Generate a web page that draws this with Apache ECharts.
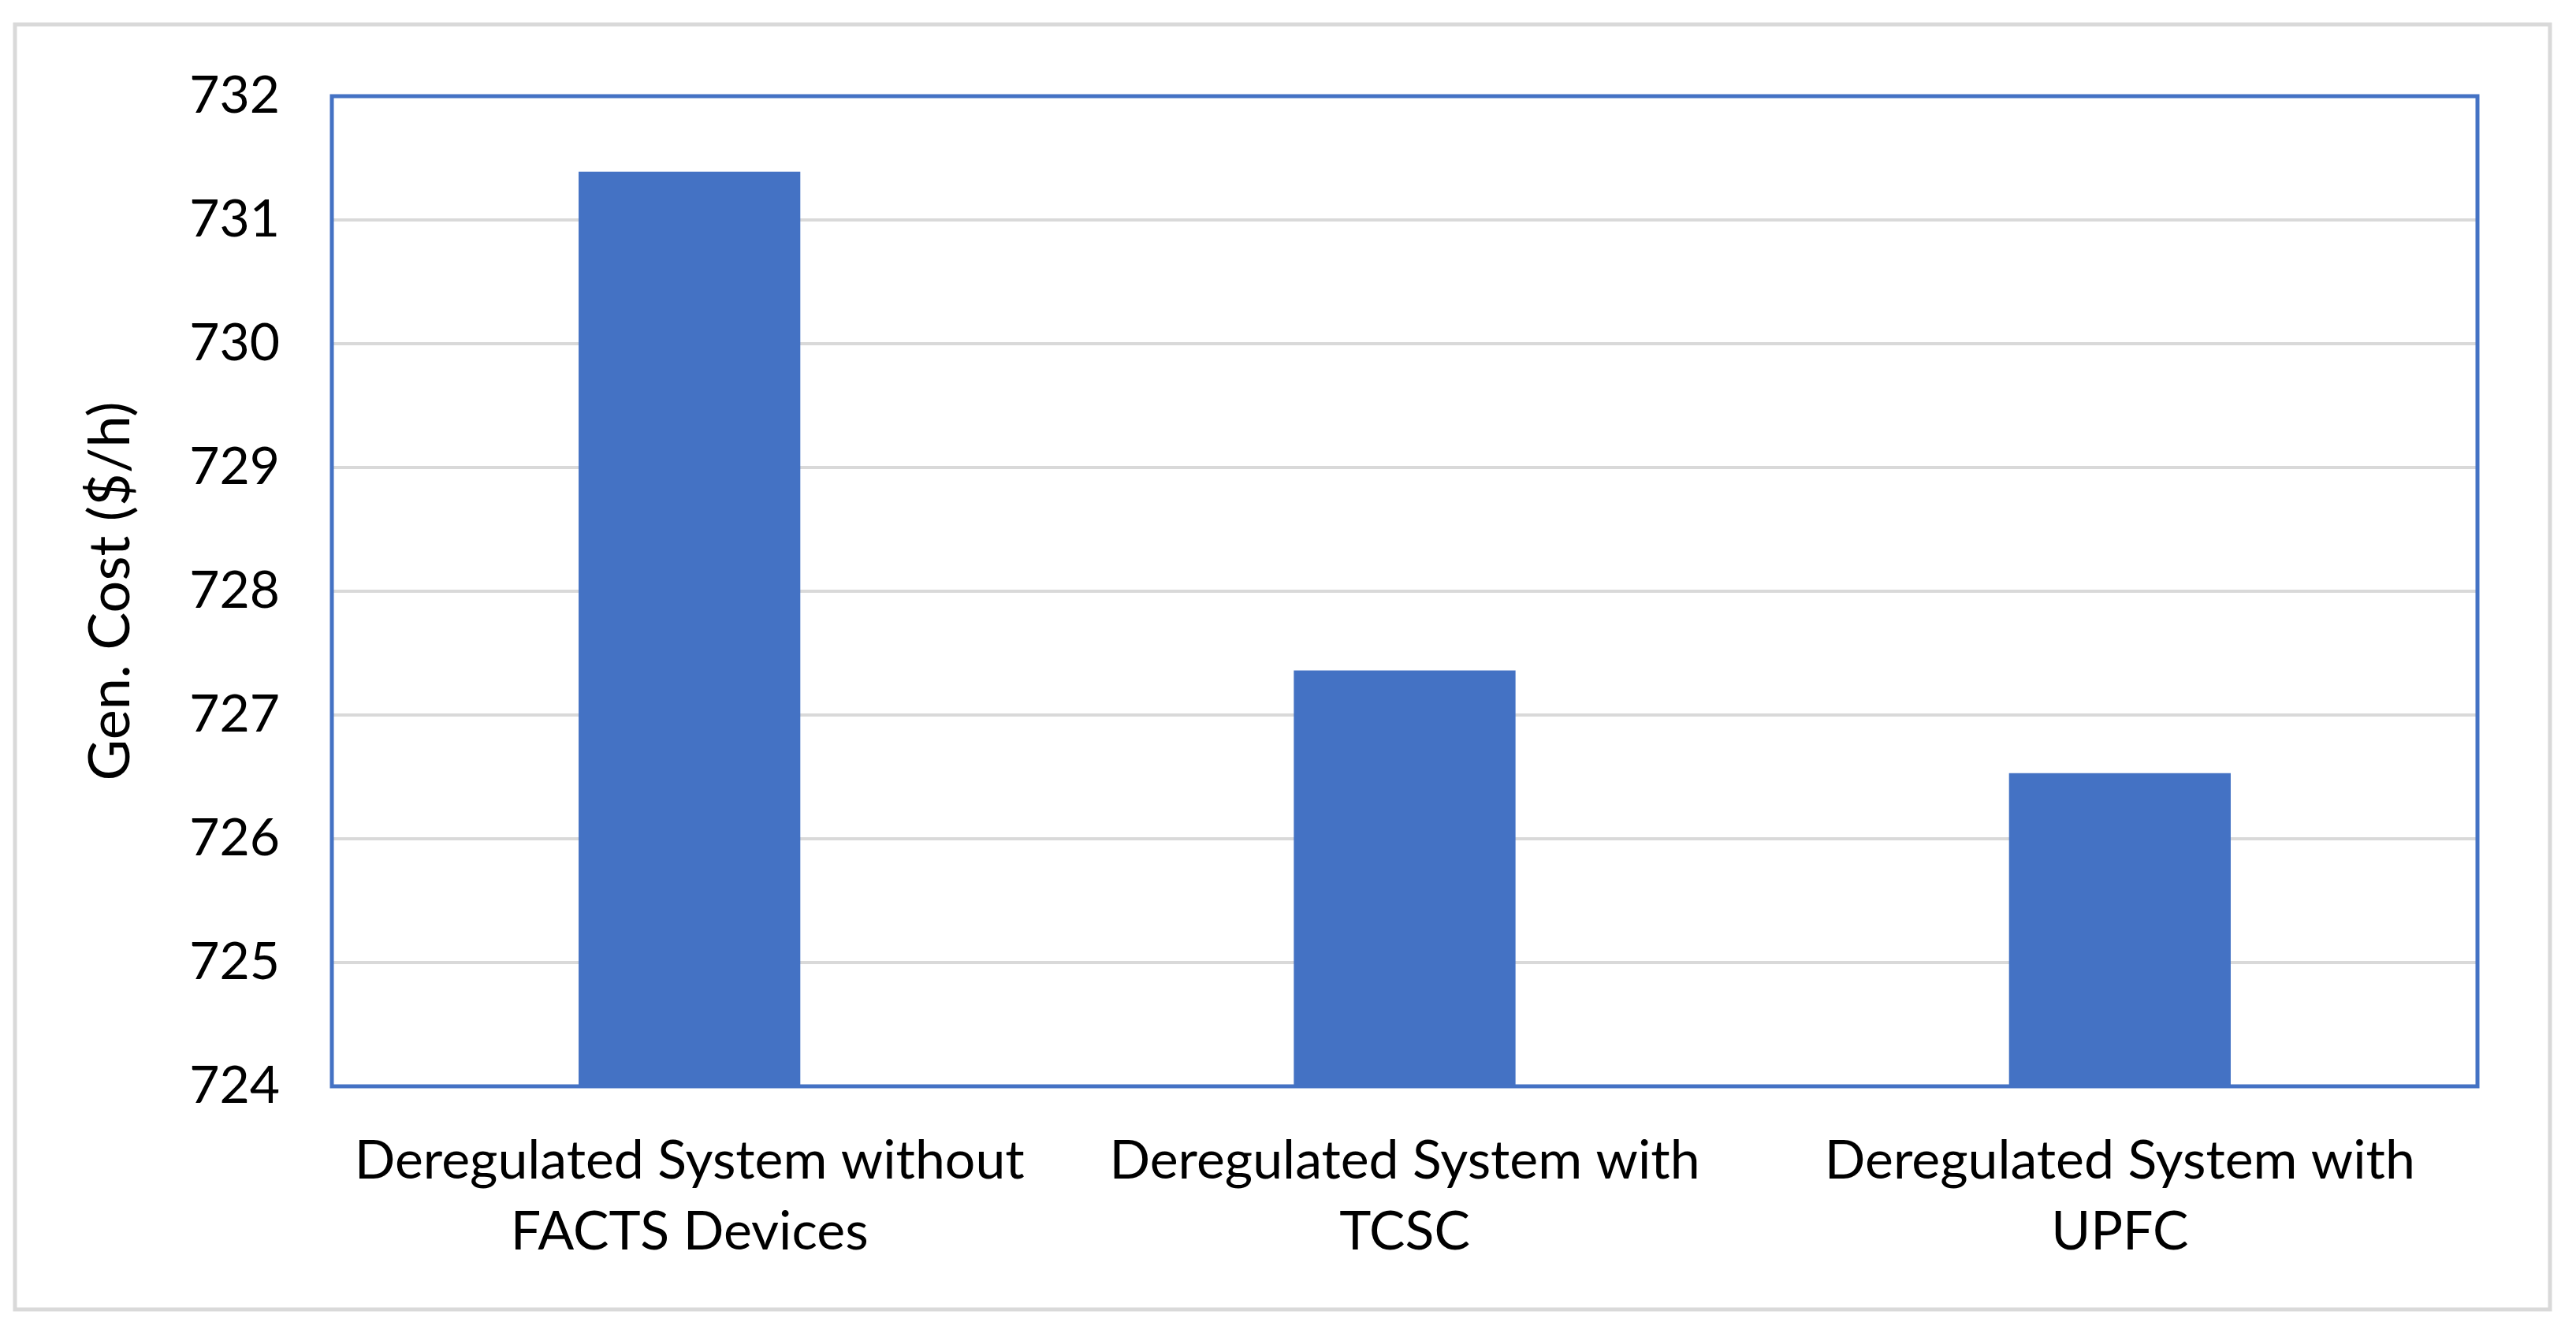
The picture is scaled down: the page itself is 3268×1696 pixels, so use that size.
<!DOCTYPE html>
<html>
<head>
<meta charset="utf-8">
<style>
  html, body { margin: 0; padding: 0; background: #ffffff; }
  #chart { width: 3268px; height: 1696px; }
</style>
<script src="https://cdn.jsdelivr.net/npm/echarts@6/dist/echarts.min.js"></script>
</head>
<body>
<div id="chart"></div>
<script>
const categories = [
  "Deregulated System without\nFACTS Devices",
  "Deregulated System with\nTCSC",
  "Deregulated System with\nUPFC"
];
const genCost = [731.39, 727.36, 726.53];
const yMin = 724;
const yMax = 732;
const yStep = 1;
const yAxisTitle = "Gen. Cost ($/h)";

const FONT = "Lato";
const chart = echarts.init(document.getElementById('chart'), null, { renderer: 'canvas' });
chart.setOption({
  backgroundColor: '#ffffff',
  animation: false,
  graphic: [{
    type: 'rect',
    shape: { x: 19, y: 31, width: 3216, height: 1630 },
    style: { fill: 'none', stroke: '#D9D9D9', lineWidth: 5 },
    z: -1
  }],
  grid: {
    left: 421, right: 125, top: 122, bottom: 318, z: 10,
    show: true, borderColor: '#4472C4', borderWidth: 5, backgroundColor: 'transparent'
  },
  xAxis: {
    type: 'category',
    data: categories,
    axisLine: { show: false },
    axisTick: { show: false },
    axisLabel: {
      color: '#000', fontFamily: FONT, fontSize: 68, lineHeight: 90,
      margin: 50, interval: 0
    }
  },
  yAxis: {
    type: 'value',
    min: yMin, max: yMax, interval: yStep,
    name: yAxisTitle,
    nameLocation: 'middle',
    nameRotate: 90,
    nameGap: 244,
    nameTextStyle: { color: '#000', fontFamily: FONT, fontSize: 72 },
    axisLine: { show: false },
    axisTick: { show: false },
    axisLabel: { color: '#000', fontFamily: FONT, fontSize: 66, margin: 66 },
    splitLine: { show: true, lineStyle: { color: '#D9D9D9', width: 4 } }
  },
  series: [{
    type: 'bar',
    data: genCost,
    barWidth: '31%',
    itemStyle: { color: '#4472C4' },
    z: 3
  }]
});
</script>
</body>
</html>
